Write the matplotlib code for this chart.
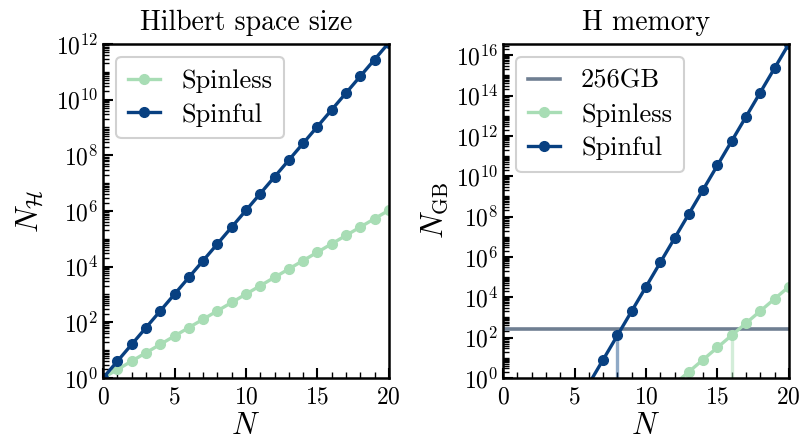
import matplotlib
matplotlib.use("Agg")
import matplotlib.pyplot as plt
import matplotlib.ticker as mticker
import numpy as np

plt.rcParams["font.family"] = "serif"
plt.rcParams["font.serif"] = ["cmr10", "DejaVu Serif"]
plt.rcParams["mathtext.fontset"] = "cm"
plt.rcParams["axes.formatter.use_mathtext"] = True

C_SPINLESS = "#a8ddb5"
C_SPINFUL  = "#084081"
C_LIMIT    = "#6f7f92"

N = list(range(21))

# Hilbert space dimension
dim_spinless = [1, 2, 4, 8, 16, 32, 64, 128, 256, 512, 1024, 2048, 4096,
                8192, 16384, 32768, 65536, 131072, 262144, 524288, 1048576]
dim_spinful = [1, 4, 16, 64, 256, 1024, 4096, 16384, 65536, 262144,
               1048576, 4194304, 16777216, 67108864, 268435456,
               1073741824, 4294967296, 17179869184, 68719476736,
               274877906944, 1099511627776]

# memory of the dense Hamiltonian in GB
mem_spinless = [2.98e-8, 1.19e-7, 4.77e-7, 1.91e-6, 7.63e-6, 3.05e-5,
                1.22e-4, 4.88e-4, 1.95e-3, 7.81e-3, 0.03125, 0.125, 0.5,
                2, 8, 32, 128, 512, 2048, 8192, 32768]
mem_spinful = [2.98e-8, 4.77e-7, 7.63e-6, 1.22e-4, 1.95e-3, 0.03125, 0.5,
               8, 128, 2048, 32768, 524288, 8388608, 134217728,
               2147483648, 34359738368, 549755813888, 8796093022208,
               140737488355328, 2251799813685248, 36028797018963968]

limit_gb = 256
cross_spinful = 8
cross_spinless = 16

fig = plt.figure(figsize=(8, 4.44), dpi=100)
ax1 = fig.add_axes([0.129, 0.149, 0.357, 0.752])
ax2 = fig.add_axes([0.629, 0.149, 0.357, 0.752])

line_kw = dict(marker="o", markersize=7, linewidth=2.4)

ax1.plot(N, dim_spinless, color=C_SPINLESS, label="Spinless", **line_kw)
ax1.plot(N, dim_spinful, color=C_SPINFUL, label="Spinful", **line_kw)
ax1.set_yscale("log")
ax1.set_ylim(1, 1e12)
ax1.set_title("Hilbert space size", fontsize=20, pad=10)
ax1.set_ylabel(r"$N_{\mathcal{H}}$", fontsize=22, labelpad=8)

ax2.axhline(limit_gb, color=C_LIMIT, linewidth=2.6, label="256GB")
ax2.plot(N, mem_spinless, color=C_SPINLESS, label="Spinless", **line_kw)
ax2.plot(N, mem_spinful, color=C_SPINFUL, label="Spinful", **line_kw)
ax2.vlines(cross_spinful, 1, mem_spinful[cross_spinful], color=C_SPINFUL,
           alpha=0.45, linewidth=2.4)
ax2.vlines(cross_spinless, 1, mem_spinless[cross_spinless], color=C_SPINLESS,
           alpha=0.5, linewidth=2.4)
ax2.set_yscale("log")
ax2.set_ylim(1, 3.6e16)
ax2.set_title("H memory", fontsize=20, pad=10)
ax2.set_ylabel(r"$N_{\mathrm{GB}}$", fontsize=22, labelpad=4)

for ax in (ax1, ax2):
    ax.set_xlim(0, 20)
    ax.set_xlabel(r"$N$", fontsize=22, labelpad=3)
    ax.xaxis.set_major_locator(mticker.MultipleLocator(5))
    ax.xaxis.set_minor_locator(mticker.MultipleLocator(1))
    ax.yaxis.set_major_locator(mticker.LogLocator(base=100, numticks=20))
    ax.yaxis.set_major_formatter(mticker.FuncFormatter(
        lambda v, p: r"$10^{%d}$" % round(np.log10(v))))
    ax.yaxis.set_minor_locator(mticker.LogLocator(base=10, subs=np.arange(1, 10),
                                                  numticks=40))
    ax.yaxis.set_minor_formatter(mticker.NullFormatter())
    ax.tick_params(which="both", direction="in", labelsize=17)
    ax.tick_params(axis="x", which="major", pad=6)
    ax.tick_params(which="major", length=7, width=1.5)
    ax.tick_params(which="minor", length=4, width=1.0)
    for s in ax.spines.values():
        s.set_linewidth(1.8)
    leg = ax.legend(loc="upper left", fontsize=19, framealpha=0.9,
                    handlelength=1.2, borderpad=0.45, labelspacing=0.38,
                    handletextpad=0.8)
    leg.get_frame().set_linewidth(1.5)

fig.savefig("out.png", dpi=100)
